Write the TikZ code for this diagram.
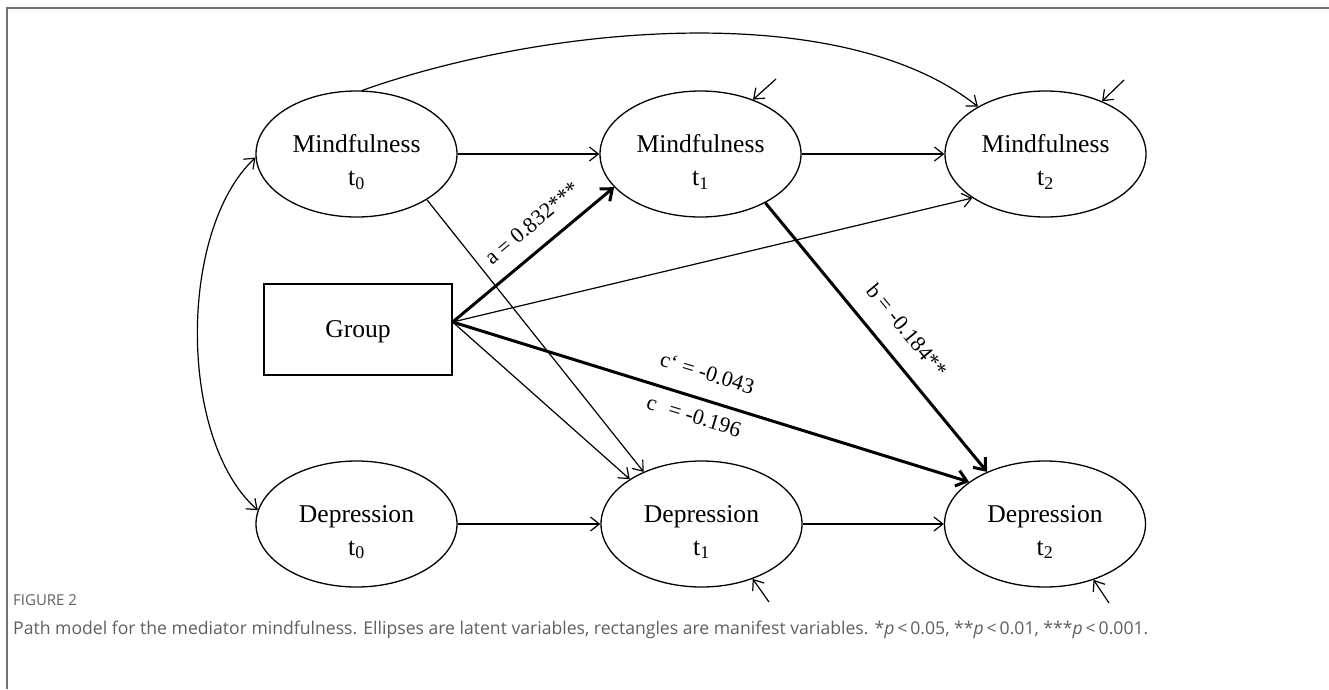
\documentclass[tikz,border=0pt]{standalone}
\usepackage{fontspec}
\setmainfont{Liberation Serif}
\newfontfamily\capfont{Open Sans}
\usetikzlibrary{arrows.meta,shapes.geometric}
\definecolor{framegray}{RGB}{115,115,115}
\definecolor{capgray}{RGB}{95,95,95}
\begin{document}
\begin{tikzpicture}[x=1pt,y=-1pt,
  latent/.style={ellipse, draw, line width=1.3pt, minimum width=201pt, minimum height=126pt, inner sep=0pt},
  vname/.style={align=center, inner sep=0pt, font=\fontsize{25.6}{33}\selectfont, yshift=-8pt},
  manifest/.style={rectangle, draw, line width=1.3pt, minimum width=188pt, minimum height=91pt, font=\fontsize{25.6}{29}\selectfont, text depth=0pt},
  thinarrow/.style={line width=1.2pt, -{Straight Barb[length=9pt,width=14pt]}},
  thickarrow/.style={line width=3pt, -{Straight Barb[length=10pt,width=16pt]}},
  elabel/.style={font=\fontsize{22}{26}\selectfont, inner sep=0pt, sloped},
  captext/.style={anchor=base west, text=capgray, inner sep=0pt},
]
\useasboundingbox (0,0) rectangle (1329,689);
\draw[framegray, line width=2pt] (7,689) -- (7,8) -- (1329,8);

% latent variables
\node[latent, label={[vname]center:Mindfulness\\t\textsubscript{0}}] (M0) at (356.5,154) {};
\node[latent, label={[vname]center:Mindfulness\\t\textsubscript{1}}] (M1) at (700.5,154) {};
\node[latent, label={[vname]center:Mindfulness\\t\textsubscript{2}}] (M2) at (1045.5,154) {};
\node[latent, label={[vname]center:Depression\\t\textsubscript{0}}] (D0) at (356.5,524) {};
\node[latent, label={[vname]center:Depression\\t\textsubscript{1}}] (D1) at (701.5,524) {};
\node[latent, label={[vname]center:Depression\\t\textsubscript{2}}] (D2) at (1045,524) {};

% manifest variable
\node[manifest] (G) at (358,329.5) {Group};
\coordinate (go) at ([yshift=7.5pt]G.east);

% residual starting points
\coordinate (eM1) at (776,79);
\coordinate (eM2) at (1124,80);
\coordinate (eD1) at (769,602);
\coordinate (eD2) at (1109,603);

% autoregressive paths
\draw[thinarrow] (M0.east) -- (M1.west);
\draw[thinarrow] (M1.east) -- (M2.west);
\draw[thinarrow] (D0.east) -- (D1.west);
\draw[thinarrow] (D1.east) -- (D2.west);
\draw[thinarrow] (M0.85) .. controls (543,26) and (840,-3) .. (M2.145);

% covariance
\draw[line width=1.2pt, {Straight Barb[length=9pt,width=14pt]}-{Straight Barb[length=9pt,width=14pt]}]
  (M0.182) .. controls (178,230) and (178,440) .. (D0.172);

% cross paths
\draw[thinarrow] (M0.327) -- (D1.138);
\draw[thinarrow] (go) -- (D1.148);
\draw[thinarrow] (go) -- (M2.211);

% mediation paths
\draw[thickarrow] (go) -- node[elabel, pos=0.59, above=16pt] {a = 0.832***} (M1.201);
\draw[thickarrow] (go) -- node[elabel, pos=0.478, above=17.5pt] {c‘ = -0.043}
  node[elabel, pos=0.478, below=9.5pt] {c\hphantom{‘} = -0.196} (D2.151);
\draw[thickarrow] (M1.323) -- node[elabel, pos=0.54, above=19pt] {b = -0.184**} (D2.138);

% residuals
\draw[thinarrow] (eM1) -- (M1.46);
\draw[thinarrow] (eM2) -- (M2.43);
\draw[thinarrow] (eD1) -- (D1.313);
\draw[thinarrow] (eD2) -- (D2.311);

% caption
\node[captext, font=\capfont\fontsize{15}{17}\selectfont] (fig) at (13,605) {FIGURE 2};
\node[captext, font=\capfont\fontsize{17.6}{20}\selectfont] (cap) at (13,634) {Path model for the mediator mindfulness. Ellipses are latent variables, rectangles are manifest variables. *\textit{p}\,<\,0.05, **\textit{p}\,<\,0.01, ***\textit{p}\,<\,0.001.};
\end{tikzpicture}
\end{document}
